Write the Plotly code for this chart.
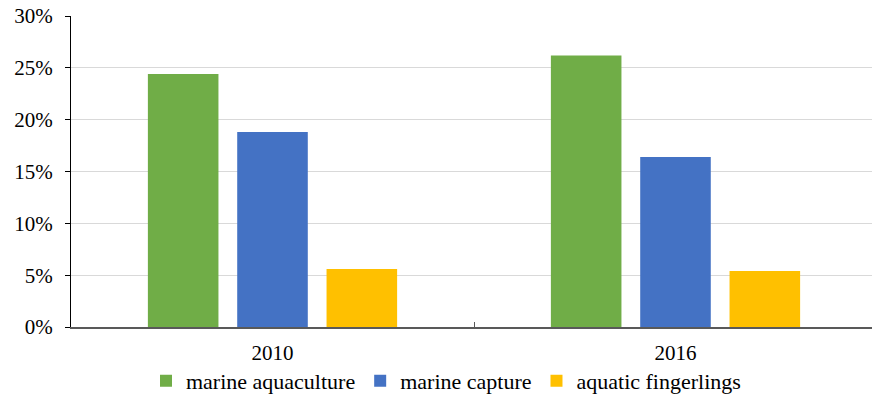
import plotly.graph_objects as go

categories = ["2010", "2016"]
series_names = ["marine aquaculture", "marine capture", "aquatic fingerlings"]
marine_aquaculture = [24.4, 26.2]
marine_capture = [18.8, 16.4]
aquatic_fingerlings = [5.6, 5.4]
colors = ["#70AD47", "#4472C4", "#FFC000"]
y_ticks = [0, 5, 10, 15, 20, 25, 30]
y_tick_labels = ["0%", "5%", "10%", "15%", "20%", "25%", "30%"]

FONT = "Liberation Serif"

fig = go.Figure()
for name, vals, col in zip(series_names,
                           [marine_aquaculture, marine_capture, aquatic_fingerlings],
                           colors):
    fig.add_trace(go.Bar(x=categories, y=vals, name=name, marker_color=col,
                         marker_line_width=0))

fig.update_layout(
    width=872, height=396,
    margin=dict(l=71, r=0, t=15.5, b=68.5, autoexpand=False),
    paper_bgcolor="white", plot_bgcolor="white",
    barmode="group", bargap=0.335, bargroupgap=0.21,
    font=dict(family=FONT, size=21, color="#000000"),
    showlegend=True,
    legend=dict(orientation="h", xref="paper", x=0.0936, xanchor="left",
                yref="container", y=0.038, yanchor="middle",
                font=dict(family=FONT, size=22, color="#000000"),
                tracegroupgap=0, bgcolor="rgba(0,0,0,0)"),
)
fig.update_xaxes(
    type="category", range=[-0.5, 1.4876], automargin=False,
    showline=True, linecolor="#595959", linewidth=1.5,
    ticks="inside", ticklen=5, tickcolor="#595959", tickwidth=1,
    tickson="boundaries", showgrid=False,
    tickfont=dict(family=FONT, size=21, color="#000000"),
    ticklabelstandoff=6,
)
fig.update_yaxes(
    range=[0, 30], tickmode="array", tickvals=y_ticks, ticktext=y_tick_labels,
    automargin=False,
    showline=True, linecolor="#000000", linewidth=1,
    ticks="outside", ticklen=5, tickcolor="#000000",
    showgrid=True, gridcolor="#D9D9D9", gridwidth=1,
    zeroline=False,
    tickfont=dict(family=FONT, size=21, color="#000000"),
    ticklabelstandoff=8,
)

fig.write_html("out.html")
